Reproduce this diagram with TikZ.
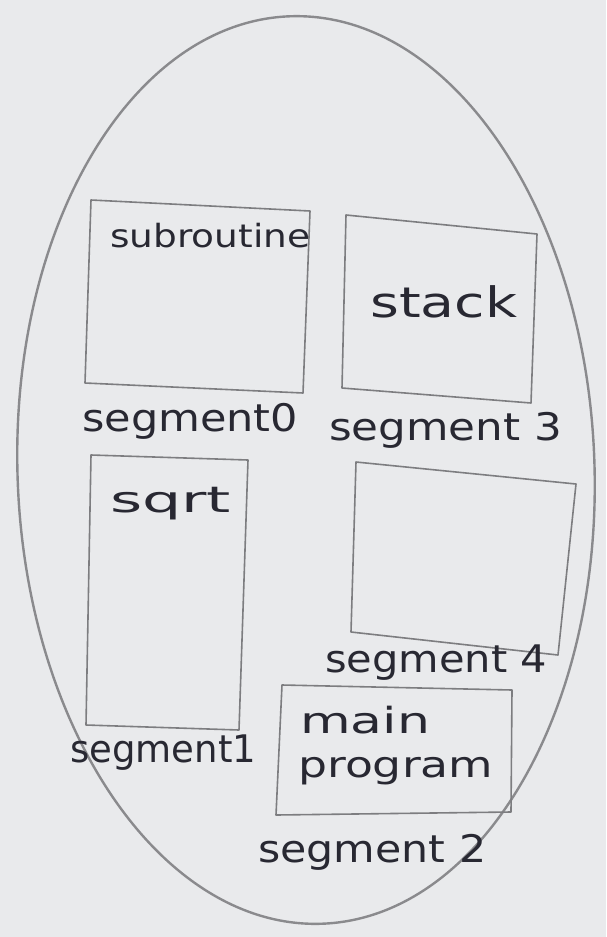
\documentclass[tikz,border=0pt]{standalone}
\usepackage{fontspec}
\usepackage{graphicx}
\usetikzlibrary{shapes.geometric}
\setmainfont{DejaVu Sans}
\definecolor{paper}{RGB}{233,234,236}
\definecolor{pen}{RGB}{125,125,128}
\definecolor{ink}{RGB}{40,40,50}
\newcommand{\hw}[2]{\resizebox{#1}{\height}{#2}}
\begin{document}
\begin{tikzpicture}[x=1pt,y=-1pt,
  segbox/.style={draw=pen,line width=1.6pt,line join=round},
  lbl/.style={text=ink,font=\fontsize{38}{40}\selectfont,inner sep=0pt,anchor=base west},
  inbox/.style={text=ink,font=\fontsize{36}{38}\selectfont,inner sep=0pt,anchor=base west}]
\fill[paper] (0,0) rectangle (606,937);
\useasboundingbox (0,0) rectangle (606,937);
\node[draw=pen!90,line width=2.4pt,ellipse,minimum width=577pt,minimum height=908pt,inner sep=0pt,rotate=2] (mem) at (306,470) {};
% segment 0
\draw[segbox] (91,200) -- (310,211) -- (303,393) -- (85,383) -- cycle;
\node[inbox,font=\fontsize{32}{34}\selectfont] (t0) at (110,247) {\hw{200pt}{subroutine}};
\node[lbl] (l0) at (82,431) {\hw{216pt}{segment0}};
% segment 3
\draw[segbox] (346,215) -- (537,234) -- (531,403) -- (342,388) -- cycle;
\node[inbox,font=\fontsize{42}{44}\selectfont] (t3) at (370,317) {\hw{147pt}{stack}};
\node[lbl] (l3) at (329,440) {\hw{233pt}{segment 3}};
% segment 1
\draw[segbox] (91,455) -- (248,460) -- (239,730) -- (86,725) -- cycle;
\node[inbox] (t1) at (110,512) {\hw{121pt}{sqrt}};
\node[lbl] (l1) at (70,762) {\hw{186pt}{segment1}};
% segment 4
\draw[segbox] (356,462) -- (576,484) -- (558,655) -- (351,632) -- cycle;
\node[lbl] (l4) at (325,672) {\hw{222pt}{segment 4}};
% segment 2
\draw[segbox] (282,685) -- (512,690) -- (511,812) -- (276,815) -- cycle;
\node[inbox] (t2a) at (300,733) {\hw{130pt}{main}};
\node[inbox] (t2b) at (298,777) {\hw{195pt}{program}};
\node[lbl] (l2) at (258,862) {\hw{228pt}{segment 2}};
\end{tikzpicture}
\end{document}
